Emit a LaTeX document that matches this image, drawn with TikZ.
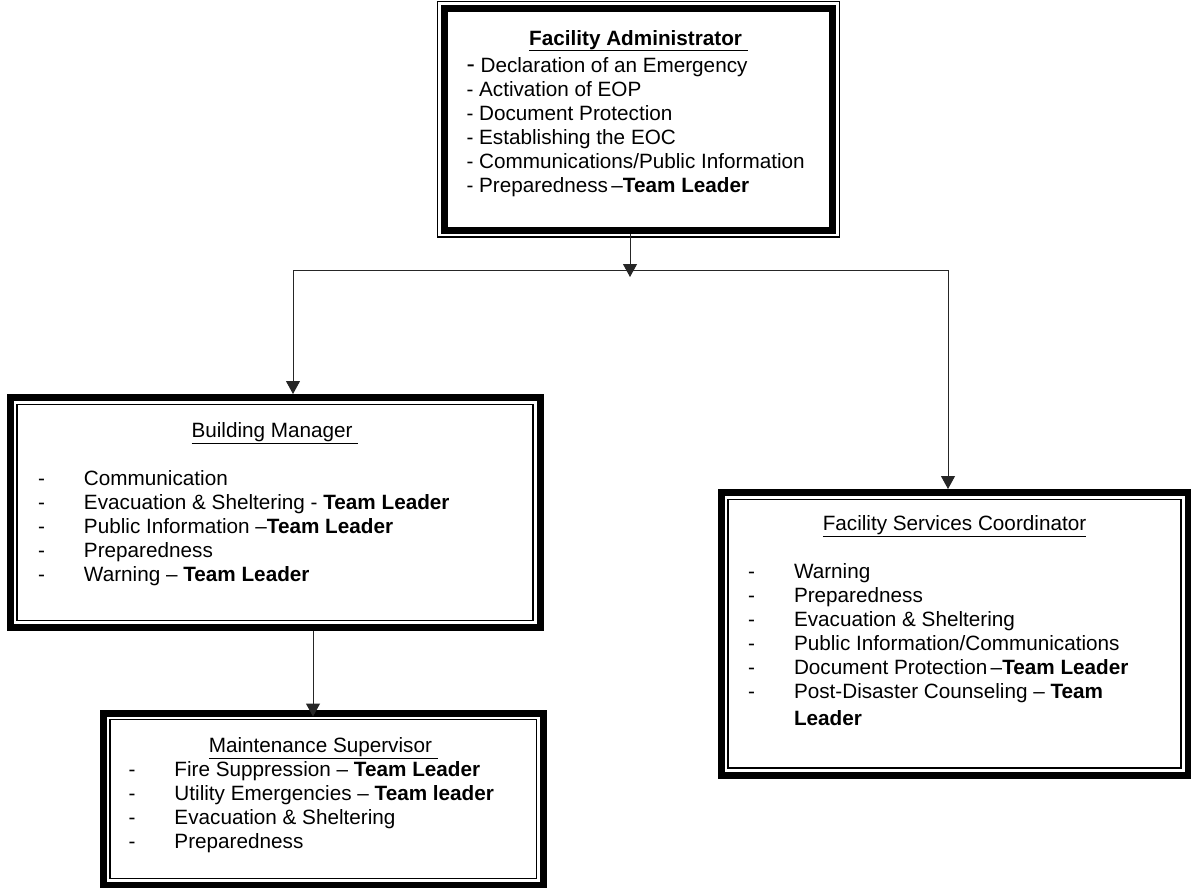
\documentclass[tikz,border=0pt]{standalone}
\usepackage{fontspec}
\setmainfont{Liberation Sans}
\usepackage{tikz}
\usetikzlibrary{arrows.meta}
\tikzstyle{frame} = [draw, line width=7pt, inner ysep=0pt, font=\fontsize{20.7}{24}\selectfont]
\tikzstyle{fine} = [line width=1.2pt]
\tikzstyle{link} = [draw=black!85, line width=1pt]
\tikzstyle{tip} = [-{Triangle[length=13pt,width=14pt]}]
\newcommand{\boxbody}[3]{\begin{minipage}[t][#2][t]{#1}#3\end{minipage}}
\newcommand{\entry}[1]{\makebox[46pt][l]{-}#1\par}

\begin{document}
\begin{tikzpicture}[x=1pt, y=-1pt]
\useasboundingbox (0,0) rectangle (1191,887);
% duties of each post
\node[frame, inner xsep=22pt, minimum width=388pt, minimum height=221.5pt] (admin) at (638.5,119.25) {\boxbody{344pt}{221.5pt}{%
    {\centering\rule{0pt}{36.5pt}\bfseries\underline{Facility Administrator\ }\par}
    \vspace{3pt}
    {\fontsize{25}{24}\selectfont -} Declaration of an Emergency\par
    - Activation of EOP\par
    - Document Protection\par
    - Establishing the EOC\par
    - Communications/Public Information\par
    - Preparedness\,–\textbf{Team Leader}\par}};
\node[frame, inner xsep=28pt, minimum width=530pt, minimum height=230pt] (bldg) at (275,512.5) {\boxbody{474pt}{230pt}{%
    {\centering\rule{0pt}{39.5pt}\underline{Building Manager\ }\par}
    \vspace{24pt}
    \entry{Communication}
    \entry{Evacuation \& Sheltering - \textbf{Team Leader}}
    \entry{Public Information –\textbf{Team Leader}}
    \entry{Preparedness}
    \entry{Warning – \textbf{Team Leader}}}};
\node[frame, inner xsep=25pt, minimum width=439.5pt, minimum height=172pt] (maint) at (323.25,799) {\boxbody{389.5pt}{172pt}{%
    {\centering\rule{0pt}{39pt}\underline{Maintenance Supervisor\ }\par}
    \entry{Fire Suppression – \textbf{Team Leader}}
    \entry{Utility Emergencies – \textbf{Team leader}}
    \entry{Evacuation \& Sheltering}
    \entry{Preparedness}}};
\node[frame, inner xsep=27pt, minimum width=467pt, minimum height=282.5pt] (fsc) at (954.5,633.75) {\boxbody{413pt}{282.5pt}{%
    {\centering\rule{0pt}{37.5pt}\underline{Facility Services Coordinator}\par}
    \vspace{24pt}
    \entry{Warning}
    \entry{Preparedness}
    \entry{Evacuation \& Sheltering}
    \entry{Public Information/Communications}
    \entry{Document Protection\,–\textbf{Team Leader}}
    \entry{Post-Disaster Counseling – \textbf{Team}}
    \vspace{3pt}
    \hspace*{46pt}\textbf{Leader}\par}};

% thin lines of the borders
\draw[fine] ([shift={(-3.5pt,3.5pt)}]admin.north west) rectangle ([shift={(3.5pt,-3.5pt)}]admin.south east);
\draw[fine] ([shift={(10.5pt,-10.5pt)}]bldg.north west) rectangle ([shift={(-10.5pt,10.5pt)}]bldg.south east);
\draw[fine] ([shift={(10pt,-10pt)}]maint.north west) rectangle ([shift={(-10pt,10pt)}]maint.south east);
\draw[fine] ([shift={(10.5pt,-10.5pt)}]fsc.north west) rectangle ([shift={(-10.5pt,10.5pt)}]fsc.south east);

% connectors
\coordinate (jm) at (630,277);
\coordinate (jl) at (293,270);
\coordinate (jr) at (948,270);
\coordinate (jb) at (313,630);
\draw[link, tip] (jm |- admin.south) -- (jm);
\draw[link] (jl) -- (jr);
\draw[link, tip] (jl) -- (jl |- bldg.north);
\draw[link, tip] (jr) -- (jr |- fsc.north);
\draw[link, tip, shorten >=-7pt] (jb |- bldg.south) -- (jb |- maint.north);
\end{tikzpicture}
\end{document}
